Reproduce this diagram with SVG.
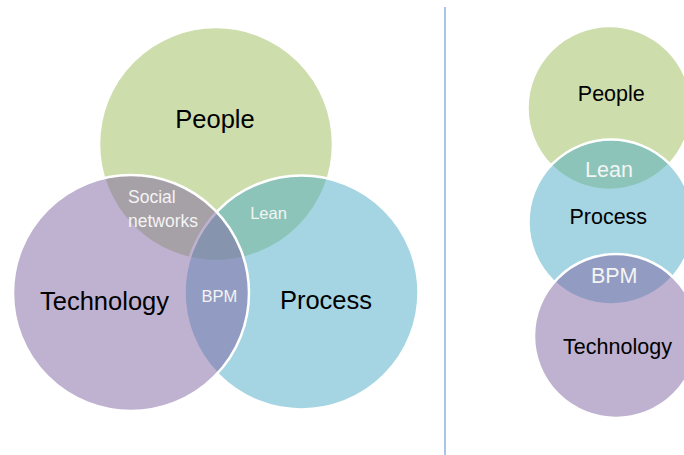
<svg xmlns="http://www.w3.org/2000/svg" width="684" height="455" viewBox="0 0 684 455">
<style>
.c{fill-opacity:0.5;stroke:#ffffff;stroke-width:2.5}
.people{fill:#9BBB59}
.proc{fill:#4BACC6}
.tech{fill:#8064A2}
text{font-family:"Liberation Sans",Arial,sans-serif;text-anchor:middle}
.big{font-size:25.5px;fill:#000}
.med{font-size:21.5px;fill:#000}
.sm{font-size:16.5px;fill:#F4F4F4}
.sn{font-size:17.5px;fill:#F4F4F4;text-anchor:start}
.smr{font-size:21.5px;fill:#F4F4F4}
</style>
<rect width="684" height="455" fill="#fff"/>
<g id="left-venn">
<g id="people-l"><circle class="c people" cx="216" cy="144" r="117"/></g>
<g id="process-l"><circle class="c proc" cx="301.5" cy="292.5" r="117"/></g>
<g id="technology-l"><circle class="c tech" cx="131" cy="293" r="118"/></g>
<text class="big" x="215" y="128">People</text>
<text class="big" x="104.5" y="310">Technology</text>
<text class="big" x="326" y="309">Process</text>
<text class="sn" x="128" y="203">Social</text>
<text class="sn" x="128" y="226.5">networks</text>
<text class="sm" x="268.5" y="219">Lean</text>
<text class="sm" x="219.5" y="301.5">BPM</text>
</g>
<g id="connectors">
<line x1="445" y1="7" x2="445" y2="455" stroke="#8EB0DC" stroke-width="1.5"/>
</g>
<g id="right-stack">
<g id="people-r"><circle class="c people" cx="609.5" cy="108" r="82"/></g>
<g id="process-r"><circle class="c proc" cx="611" cy="222" r="82.5"/></g>
<g id="technology-r"><circle class="c tech" cx="616" cy="336" r="82"/></g>
<text class="med" x="611.3" y="101">People</text>
<text class="smr" x="609" y="176.5">Lean</text>
<text class="med" x="608.3" y="224">Process</text>
<text class="smr" x="614.2" y="282.5">BPM</text>
<text class="med" x="617.5" y="354.3">Technology</text>
</g>
</svg>
